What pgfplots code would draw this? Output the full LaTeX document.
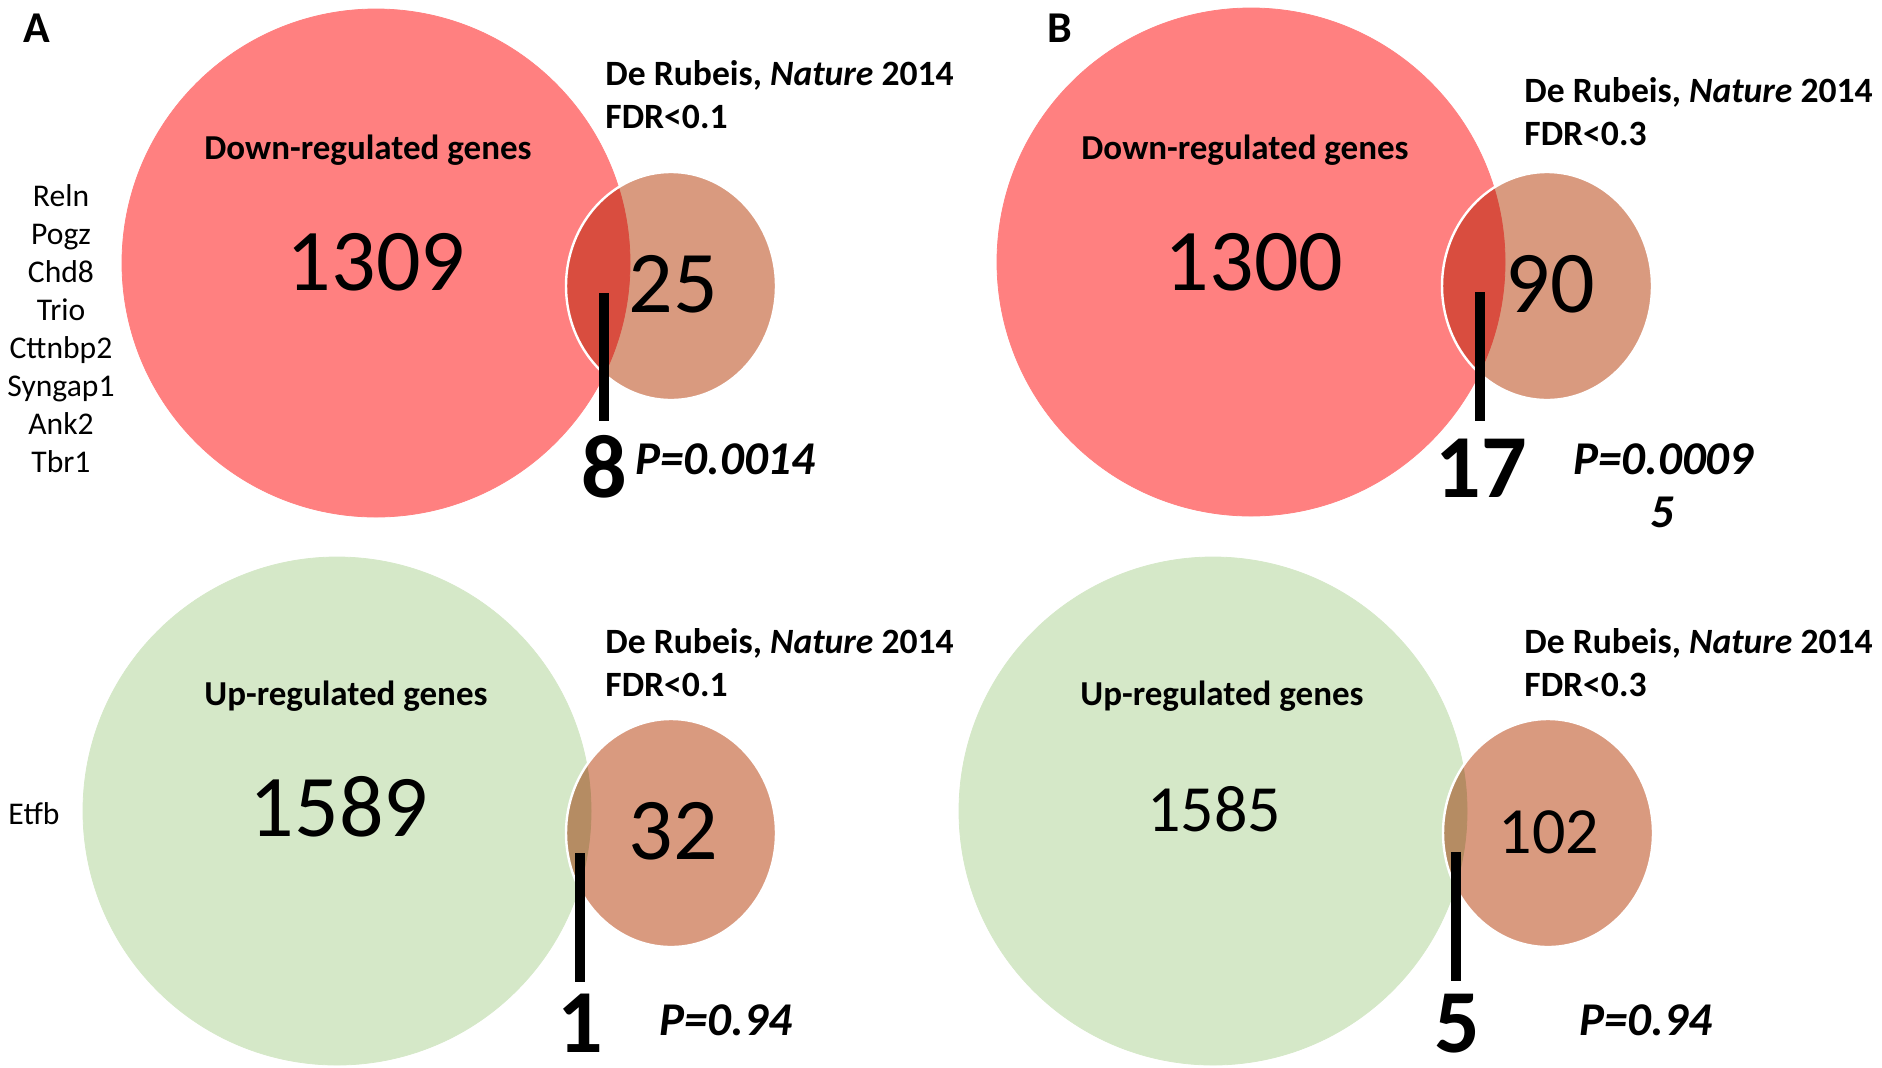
\documentclass[border=0pt]{standalone}
\usepackage{fontspec}
\setmainfont{Carlito}
\usepackage{pgfplots}
\pgfplotsset{compat=1.18}

\definecolor{downred}{RGB}{255,128,128}
\definecolor{upgreen}{RGB}{213,232,200}
\definecolor{asdset}{RGB}{217,154,127}

% 1 reference pixel = 0.5pt
\newcommand{\fs}[1]{\fontsize{#1}{#1}\selectfont}

\begin{document}
\begin{tikzpicture}[every node/.style={inner sep=0pt}]
\begin{axis}[
  scale only axis, width=941pt, height=533.5pt,
  xmin=0, xmax=1882, ymin=0, ymax=1067, y dir=reverse,
  hide axis, clip=false, clip mode=individual,
  big/.style={only marks, mark=*, mark size=127pt, color=#1, mark options={draw=#1, fill=#1}},
  small/.style={only marks, mark=*, mark size=52.5pt, color=asdset,
    mark options={draw=asdset, fill=asdset, yscale=1.086, blend mode=multiply}},
  rim/.style={only marks, mark=o, mark size=52.5pt, color=white,
    mark options={draw=white, line width=1.2pt, yscale=1.086}},
  tick/.style={black, line width=5pt},
]
% gene sets (centres in pixels)
\addplot[big=downred] coordinates {(376,263) (1251,262)};
\addplot[big=upgreen] coordinates {(337,811) (1213,811)};
% De Rubeis sets
\addplot[small] coordinates {(671,286) (1547,286) (671,833) (1548,833)};
\addplot[rim] coordinates {(671,286) (1547,286) (671,833) (1548,833)};
% overlap pointers
\addplot[tick] coordinates {(604,293) (604,421)};
\addplot[tick] coordinates {(1480,292) (1480,421)};
\addplot[tick] coordinates {(580,853) (580,982)};
\addplot[tick] coordinates {(1456,852) (1456,981)};

% panel letters
\node[font=\fs{22}\bfseries, anchor=base] at (axis cs:37,42) {A};
\node[font=\fs{22}\bfseries, anchor=base] at (axis cs:1060,42) {B};

% set labels
\node[font=\fs{17.5}\bfseries, anchor=base] at (axis cs:368,159) {Down-regulated genes};
\node[font=\fs{17.5}\bfseries, anchor=base] at (axis cs:1245,159) {Down-regulated genes};
\node[font=\fs{17.5}\bfseries, anchor=base] at (axis cs:346,705) {Up-regulated genes};
\node[font=\fs{17.5}\bfseries, anchor=base] at (axis cs:1222,705) {Up-regulated genes};

\node[font=\fs{17.8}\bfseries, anchor=base west] at (axis cs:605,85) {De Rubeis, \textit{Nature} 2014};
\node[font=\fs{17.8}\bfseries, anchor=base west] at (axis cs:605,128) {FDR<0.1};
\node[font=\fs{17.8}\bfseries, anchor=base west] at (axis cs:1524,102) {De Rubeis, \textit{Nature} 2014};
\node[font=\fs{17.8}\bfseries, anchor=base west] at (axis cs:1524,145) {FDR<0.3};
\node[font=\fs{17.8}\bfseries, anchor=base west] at (axis cs:605,653) {De Rubeis, \textit{Nature} 2014};
\node[font=\fs{17.8}\bfseries, anchor=base west] at (axis cs:605,696) {FDR<0.1};
\node[font=\fs{17.8}\bfseries, anchor=base west] at (axis cs:1524,653) {De Rubeis, \textit{Nature} 2014};
\node[font=\fs{17.8}\bfseries, anchor=base west] at (axis cs:1524,696) {FDR<0.3};

% counts
\node[font=\fs{44}, anchor=base] at (axis cs:376,290) {1309};
\node[font=\fs{44}, anchor=base] at (axis cs:673,312) {25};
\node[font=\fs{44}, anchor=base] at (axis cs:1254,290) {1300};
\node[font=\fs{44}, anchor=base] at (axis cs:1550,312) {90};
\node[font=\fs{44}, anchor=base] at (axis cs:339,836) {1589};
\node[font=\fs{44}, anchor=base] at (axis cs:673,859) {32};
\node[font=\fs{33}, anchor=base] at (axis cs:1214,831) {1585};
\node[font=\fs{33}, anchor=base] at (axis cs:1549,853) {102};

% overlaps
\node[font=\fs{45}\bfseries, anchor=base] at (axis cs:604,497) {8};
\node[font=\fs{45}\bfseries, anchor=base] at (axis cs:1481,497) {17};
\node[font=\fs{45}\bfseries, anchor=base] at (axis cs:580,1052) {1};
\node[font=\fs{45}\bfseries, anchor=base] at (axis cs:1457,1052) {5};

% p-values
\node[font=\fs{23.5}\bfseries\itshape, anchor=base west] at (axis cs:635,474) {P=0.0014};
\node[font=\fs{23.5}\bfseries\itshape, anchor=base west] at (axis cs:1573,474) {P=0.0009};
\node[font=\fs{23.5}\bfseries\itshape, anchor=base] at (axis cs:1662,527) {5};
\node[font=\fs{23.5}\bfseries\itshape, anchor=base west] at (axis cs:659,1035) {P=0.94};
\node[font=\fs{23.5}\bfseries\itshape, anchor=base west] at (axis cs:1579,1035) {P=0.94};

% overlapping genes
\node[font=\fs{15.8}, anchor=base] at (axis cs:61,206) {Reln};
\node[font=\fs{15.8}, anchor=base] at (axis cs:61,244) {Pogz};
\node[font=\fs{15.8}, anchor=base] at (axis cs:61,282) {Chd8};
\node[font=\fs{15.8}, anchor=base] at (axis cs:61,320) {Trio};
\node[font=\fs{15.8}, anchor=base] at (axis cs:61,358) {Cttnbp2};
\node[font=\fs{15.8}, anchor=base] at (axis cs:61,396) {Syngap1};
\node[font=\fs{15.8}, anchor=base] at (axis cs:61,434) {Ank2};
\node[font=\fs{15.8}, anchor=base] at (axis cs:61,472) {Tbr1};
\node[font=\fs{15.8}, anchor=base] at (axis cs:34,824) {Etfb};
\end{axis}
\pgfresetboundingbox
\path (current axis.south west) rectangle (current axis.north east);
\end{tikzpicture}
\end{document}
